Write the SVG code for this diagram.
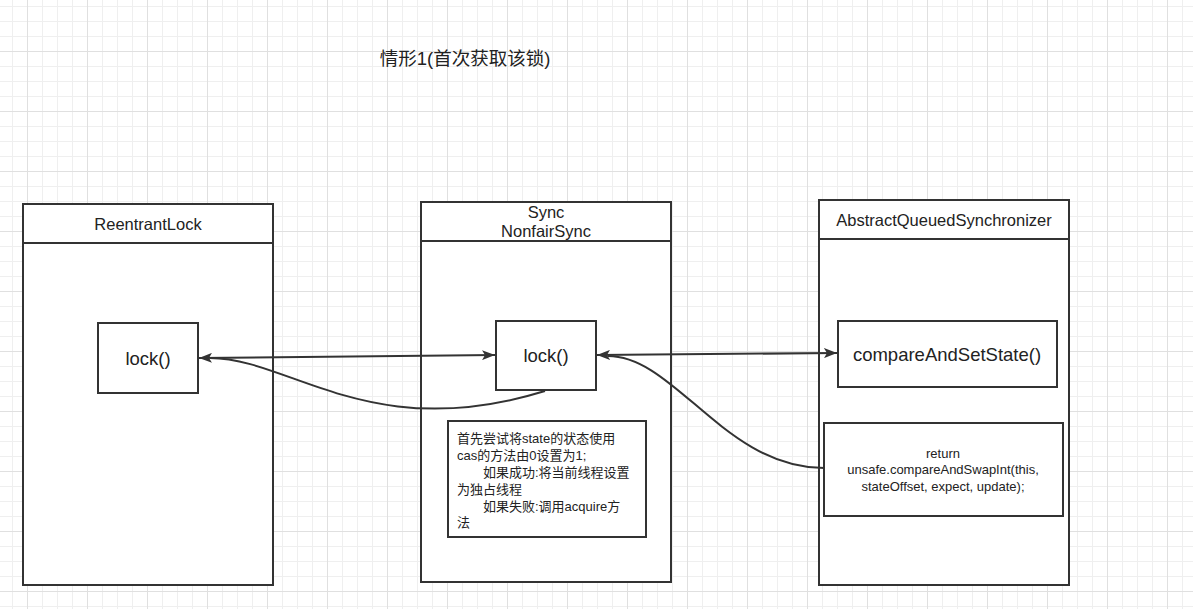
<svg xmlns="http://www.w3.org/2000/svg" width="1193" height="609" viewBox="0 0 1193 609">
<defs>
<pattern id="grid" x="27" y="51" width="60" height="60" patternUnits="userSpaceOnUse">
<rect x="0" y="0" width="60" height="60" fill="#ffffff"/>
<rect x="15" y="0" width="1" height="60" fill="#efefef"/>
<rect x="30" y="0" width="1" height="60" fill="#efefef"/>
<rect x="45" y="0" width="1" height="60" fill="#efefef"/>
<rect x="0" y="15" width="60" height="1" fill="#efefef"/>
<rect x="0" y="30" width="60" height="1" fill="#efefef"/>
<rect x="0" y="45" width="60" height="1" fill="#efefef"/>
<rect x="0" y="0" width="1" height="60" fill="#e0e0e0"/>
<rect x="0" y="0" width="60" height="1" fill="#e0e0e0"/>
</pattern>
<marker id="arr" viewBox="0 0 13 10" refX="13" refY="5" markerWidth="13" markerHeight="10" markerUnits="userSpaceOnUse" orient="auto-start-reverse">
<path d="M0,0 L13,5 L0,10 L3,5 z" fill="#333333"/>
</marker>
<style>
.box{fill:#ffffff;stroke:#333333;stroke-width:2}
.ln{fill:none;stroke:#333333;stroke-width:2}
.t{font-family:"Liberation Sans","Noto Sans CJK SC",sans-serif;fill:#222222}
.c{text-anchor:middle}
.h{font-size:16.5px}
.m{font-size:18.5px}
.s{font-size:13px}
</style>
</defs>
<rect x="0" y="0" width="1193" height="609" fill="url(#grid)"/>
<text class="t c" x="465" y="64.5" font-size="18.5">情形1(首次获取该锁)</text>

<g id="reentrantlock">
<rect class="box" x="23" y="204" width="250" height="381"/>
<line class="ln" x1="23" y1="243" x2="273" y2="243"/>
<text class="t c h" x="148" y="230">ReentrantLock</text>
</g>
<g id="sync">
<rect class="box" x="421" y="202" width="250" height="380"/>
<line class="ln" x1="421" y1="241" x2="671" y2="241"/>
<text class="t c h" x="546" y="218">Sync</text>
<text class="t c h" x="546" y="237">NonfairSync</text>
</g>
<g id="aqs">
<rect class="box" x="819" y="200" width="250" height="385"/>
<line class="ln" x1="819" y1="239" x2="1069" y2="239"/>
<text class="t c h" x="944" y="226">AbstractQueuedSynchronizer</text>
</g>
<g id="lock-left">
<rect class="box" x="98" y="323" width="100" height="70"/>
<text class="t c m" x="148" y="364.5">lock()</text>
</g>
<g id="lock-mid">
<rect class="box" x="496" y="321" width="100" height="69"/>
<text class="t c m" x="546" y="361.5">lock()</text>
</g>
<g id="cas">
<rect class="box" x="838" y="321" width="219" height="66"/>
<text class="t c m" x="947" y="360.5" font-size="19">compareAndSetState()</text>
</g>
<g id="note">
<rect class="box" x="448" y="421" width="198" height="116"/>
<text class="t s" x="457" y="442.5">首先尝试将state的状态使用</text>
<text class="t s" x="457" y="459.5">cas的方法由0设置为1;</text>
<text class="t s" x="483" y="476.5">如果成功:将当前线程设置</text>
<text class="t s" x="457" y="493.5">为独占线程</text>
<text class="t s" x="483" y="510.5">如果失败:调用acquire方</text>
<text class="t s" x="457" y="526.5">法</text>
</g>
<g id="return">
<rect class="box" x="824" y="423" width="239" height="93"/>
<text class="t c s" x="943" y="457.5">return</text>
<text class="t c s" x="943" y="473.5">unsafe.compareAndSwapInt(this,</text>
<text class="t c s" x="943" y="490.5">stateOffset, expect, update);</text>
</g>
<g id="connectors">
<path class="ln" d="M199,358 L495,355" marker-start="url(#arr)" marker-end="url(#arr)"/>
<path class="ln" d="M597,355 L837,353" marker-start="url(#arr)" marker-end="url(#arr)"/>
<path class="ln" d="M545,391 C370,445 290,358 210,358"/>
<path class="ln" d="M824,468 C725,468 675,356 608,356"/>
</g>
</svg>
